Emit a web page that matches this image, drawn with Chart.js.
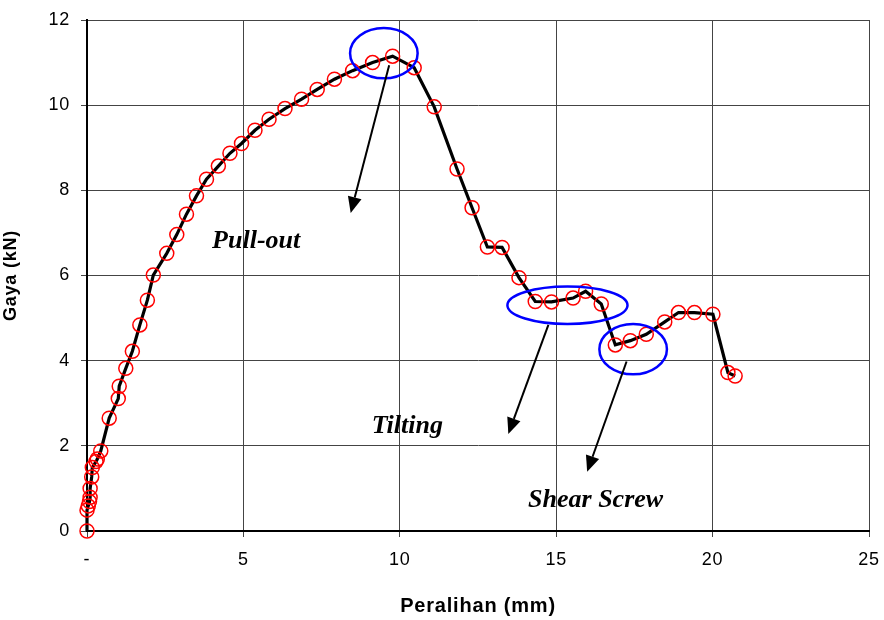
<!DOCTYPE html>
<html>
<head>
<meta charset="utf-8">
<script src="https://cdn.jsdelivr.net/npm/chart.js@4.4.1/dist/chart.umd.min.js"></script>
<style>
  html, body { margin: 0; padding: 0; background: #ffffff; }
  #wrap { width: 884px; height: 620px; position: relative; }
</style>
</head>
<body>
<div id="wrap"><canvas id="c" width="884" height="620"></canvas></div>
<script>
// ---- data ----
const displacement = [0, 0.0, 0.04, 0.08, 0.10, 0.10, 0.15, 0.17, 0.29, 0.33, 0.44, 0.71, 1.00, 1.03, 1.24, 1.45, 1.69, 1.93, 2.12, 2.55, 2.87, 3.18, 3.50, 3.82, 4.20, 4.57, 4.94, 5.37, 5.82, 6.33, 6.86, 7.36, 7.91, 8.49, 9.13, 9.77, 10.46, 11.10, 11.83, 12.31, 12.80, 13.27, 13.81, 14.33, 14.85, 15.54, 15.94, 16.44, 16.89, 17.37, 17.88, 18.47, 18.91, 19.42, 20.01, 20.49, 20.72];
const force = [0, 0.49, 0.59, 0.69, 0.79, 1.00, 1.27, 1.49, 1.63, 1.69, 1.88, 2.65, 3.11, 3.40, 3.82, 4.22, 4.84, 5.42, 6.01, 6.52, 6.96, 7.44, 7.87, 8.26, 8.57, 8.87, 9.10, 9.41, 9.67, 9.92, 10.14, 10.37, 10.61, 10.81, 11.00, 11.15, 10.88, 9.96, 8.50, 7.59, 6.67, 6.66, 5.95, 5.39, 5.38, 5.47, 5.63, 5.33, 4.37, 4.47, 4.62, 4.91, 5.13, 5.13, 5.09, 3.72, 3.64];
const xTickValues = [0, 5, 10, 15, 20, 25];
const xTickLabels = ['-', '5', '10', '15', '20', '25'];
const yTickValues = [0, 2, 4, 6, 8, 10, 12];
const xTitle = 'Peralihan (mm)';
const yTitle = 'Gaya (kN)';

// annotations (in data units)
const labelTexts = ['Pull-out', 'Tilting', 'Shear Screw'];
const labelX = [4.0, 9.1, 14.1];
const labelY = [6.64, 2.30, 0.57];
const ellipseCX = [9.49, 15.36, 17.46];
const ellipseCY = [11.22, 5.30, 4.27];
const ellipseRX = [1.08, 1.92, 1.08];
const ellipseRY = [0.59, 0.44, 0.59];
const arrowFromX = [9.66, 14.75, 17.25];
const arrowFromY = [10.94, 4.84, 3.98];
const arrowToX = [8.43, 13.47, 15.99];
const arrowToY = [7.47, 2.28, 1.39];

const points = displacement.map((x, i) => ({ x: x, y: force[i] }));

const spacingPlugin = {
  id: 'spacing',
  beforeDraw(chart) {
    if ('letterSpacing' in chart.ctx) chart.ctx.letterSpacing = '0.8px';
  }
};

const annotationPlugin = {
  id: 'annot',
  afterDatasetsDraw(chart) {
    const ctx = chart.ctx;
    const xs = chart.scales.x, ys = chart.scales.y;
    ctx.save();
    if ('letterSpacing' in ctx) ctx.letterSpacing = '0px';
    ctx.strokeStyle = '#0000ff';
    ctx.lineWidth = 2.5;
    for (let i = 0; i < ellipseCX.length; i++) {
      const cx = xs.getPixelForValue(ellipseCX[i]);
      const cy = ys.getPixelForValue(ellipseCY[i]);
      const rx = Math.abs(xs.getPixelForValue(ellipseCX[i] + ellipseRX[i]) - cx);
      const ry = Math.abs(ys.getPixelForValue(ellipseCY[i] + ellipseRY[i]) - cy);
      ctx.beginPath();
      ctx.ellipse(cx, cy, rx, ry, 0, 0, Math.PI * 2);
      ctx.stroke();
    }
    ctx.strokeStyle = '#000';
    ctx.fillStyle = '#000';
    ctx.lineWidth = 2;
    for (let i = 0; i < arrowFromX.length; i++) {
      const x1 = xs.getPixelForValue(arrowFromX[i]);
      const y1 = ys.getPixelForValue(arrowFromY[i]);
      const x2 = xs.getPixelForValue(arrowToX[i]);
      const y2 = ys.getPixelForValue(arrowToY[i]);
      const ang = Math.atan2(y2 - y1, x2 - x1);
      const hl = 16, hw = 7;
      const bx = x2 - hl * Math.cos(ang), by = y2 - hl * Math.sin(ang);
      ctx.beginPath();
      ctx.moveTo(x1, y1);
      ctx.lineTo(bx, by);
      ctx.stroke();
      ctx.beginPath();
      ctx.moveTo(x2, y2);
      ctx.lineTo(bx + hw * Math.sin(ang), by - hw * Math.cos(ang));
      ctx.lineTo(bx - hw * Math.sin(ang), by + hw * Math.cos(ang));
      ctx.closePath();
      ctx.fill();
    }
    ctx.font = 'italic bold 26px "Liberation Serif", "Times New Roman", serif';
    ctx.textAlign = 'left';
    ctx.textBaseline = 'alphabetic';
    for (let i = 0; i < labelTexts.length; i++) {
      ctx.fillText(labelTexts[i], xs.getPixelForValue(labelX[i]), ys.getPixelForValue(labelY[i]));
    }
    ctx.restore();
  }
};

const tickFont = { family: '"Liberation Sans", Arial, sans-serif', size: 18 };
const xTitleFont = { family: '"Liberation Sans", Arial, sans-serif', size: 20, weight: 'bold' };
const yTitleFont = { family: '"Liberation Sans", Arial, sans-serif', size: 18, weight: 'bold' };

new Chart(document.getElementById('c'), {
  type: 'scatter',
  data: {
    datasets: [{
      data: points,
      showLine: true,
      borderColor: '#000000',
      borderWidth: 3.2,
      tension: 0,
      pointStyle: 'circle',
      pointRadius: 7,
      pointBorderWidth: 1.5,
      pointBorderColor: '#ff0000',
      pointBackgroundColor: 'rgba(0,0,0,0)',
      pointHoverRadius: 7,
      clip: false
    }]
  },
  options: {
    responsive: false,
    animation: false,
    events: [],
    layout: { padding: { top: 20, right: 15, left: 0, bottom: 0 } },
    plugins: { legend: { display: false }, tooltip: { enabled: false } },
    scales: {
      x: {
        type: 'linear',
        min: 0, max: 25,
        afterBuildTicks(scale) { scale.ticks = xTickValues.map(v => ({ value: v })); },
        afterFit(scale) { scale.height = 89; scale.paddingLeft = 0; scale.paddingRight = 0; },
        ticks: {
          font: tickFont, color: '#000', padding: 12, maxRotation: 0,
          callback: (v) => { const k = xTickValues.indexOf(v); return k >= 0 ? xTickLabels[k] : ''; }
        },
        grid: { color: '#444', lineWidth: 1, tickLength: 6, tickColor: '#444' },
        border: { color: '#000', width: 2 },
        title: { display: true, text: xTitle, font: xTitleFont, color: '#000', padding: { top: 0, bottom: 2 } }
      },
      y: {
        type: 'linear',
        min: 0, max: 12,
        afterBuildTicks(scale) { scale.ticks = yTickValues.map(v => ({ value: v })); },
        afterFit(scale) { scale.width = 87; scale.paddingTop = 0; scale.paddingBottom = 0; },
        ticks: { font: tickFont, color: '#000', padding: 11 },
        grid: { color: '#444', lineWidth: 1, tickLength: 6, tickColor: '#444' },
        border: { color: '#000', width: 2 },
        title: { display: true, text: yTitle, font: yTitleFont, color: '#000', padding: { top: 0, bottom: 11 } }
      }
    }
  },
  plugins: [spacingPlugin, annotationPlugin]
});
</script>
</body>
</html>
